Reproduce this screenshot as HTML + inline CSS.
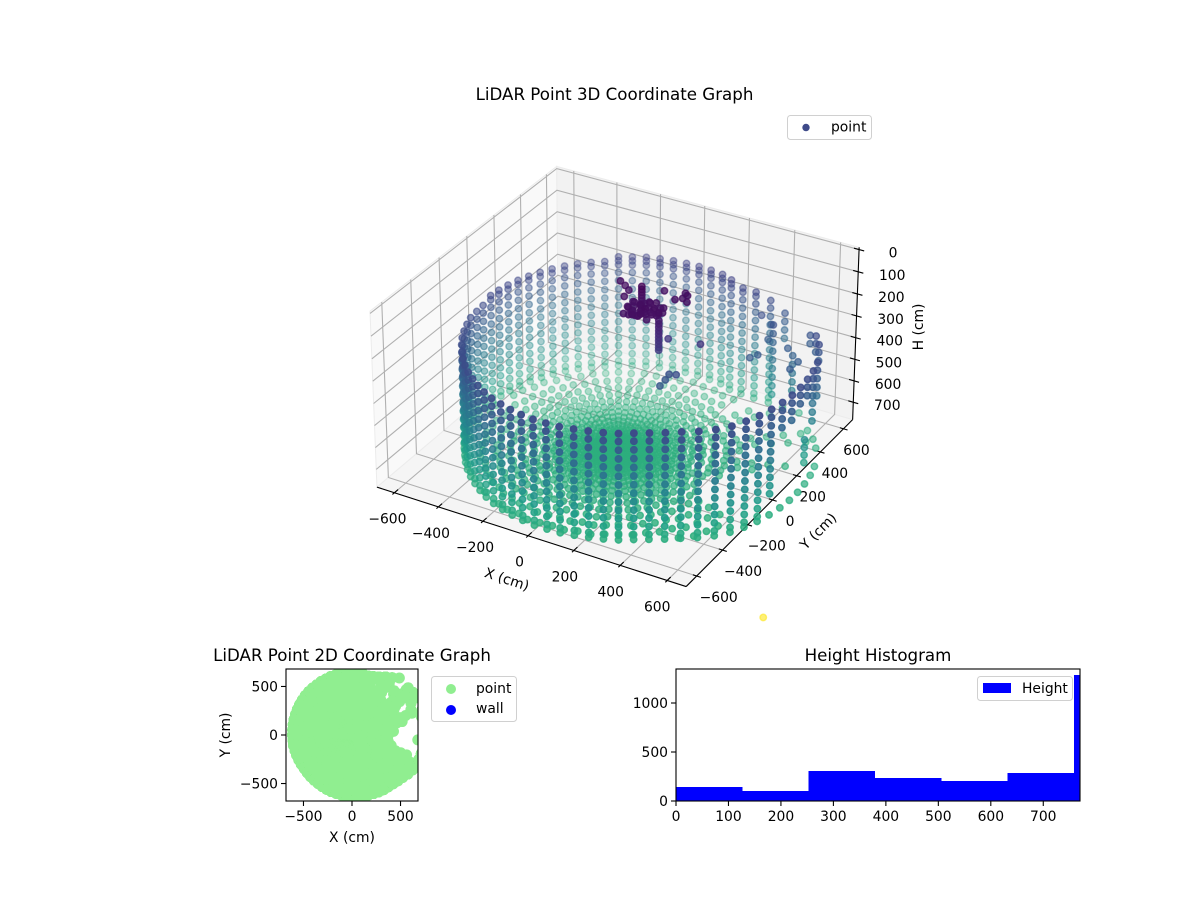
<!DOCTYPE html>
<html lang="en">
<head>
<meta charset="utf-8">
<title>LiDAR Point Graphs</title>
<style>
html,body{margin:0;padding:0;background:#fff;}
svg{display:block;}
text{font-family:"DejaVu Sans","Liberation Sans",sans-serif;fill:#000;}
.t{font-size:16.67px;text-anchor:middle;}
.l{font-size:13.89px;}
.m{text-anchor:middle;}
</style>
</head>
<body>
<svg id="fig" xmlns="http://www.w3.org/2000/svg" width="1200" height="900" viewBox="0 0 1200 900">
<rect width="1200" height="900" fill="#fff"/>
<defs>
<clipPath id="clip2d"><rect x="286" y="669" width="132" height="132"/></clipPath>
<clipPath id="cliphist"><rect x="676" y="669" width="404" height="132"/></clipPath>
</defs>

<text class="t" x="614.5" y="100">LiDAR Point 3D Coordinate Graph</text>
<g id="axes3d"></g>
<g id="points3d"></g>
<text class="l m" transform="translate(507 579) rotate(18)" y="5">X (cm)</text>
<text class="l m" transform="translate(818 531) rotate(-45)" y="5">Y (cm)</text>
<text class="l m" transform="translate(918 327) rotate(-90)" y="5">H (cm)</text>
<g>
<rect x="787.5" y="115.5" width="84" height="24" rx="3" fill="#fff" stroke="#d0d0d0"/>
<circle cx="806" cy="127.5" r="3.7" fill="#3e4a89"/>
<text class="l" x="831" y="131.5">point</text>
</g>

<text class="t" x="352" y="661">LiDAR Point 2D Coordinate Graph</text>
<rect x="286" y="669" width="132" height="132" fill="#fff"/>
<g id="points2d" clip-path="url(#clip2d)"></g>
<g id="axes2d"></g>
<rect x="286" y="669" width="132" height="132" fill="none" stroke="#000" stroke-width="1.1"/>
<text class="l m" x="352" y="842">X (cm)</text>
<text class="l m" transform="translate(225 735) rotate(-90)" y="5">Y (cm)</text>
<g>
<rect x="431.5" y="676.5" width="85" height="45" rx="3" fill="#fff" stroke="#d0d0d0"/>
<circle cx="451" cy="689" r="5" fill="#90ee90"/>
<text class="l" x="476" y="693">point</text>
<circle cx="451" cy="710" r="5" fill="#0000ff"/>
<text class="l" x="476" y="713">wall</text>
</g>

<text class="t" x="878" y="661">Height Histogram</text>
<g id="bars" clip-path="url(#cliphist)" shape-rendering="crispEdges"></g>
<g id="axeshist"></g>
<rect x="676" y="669" width="404" height="132" fill="none" stroke="#000" stroke-width="1.1"/>
<g>
<rect x="977.5" y="676.5" width="95" height="24" rx="3" fill="#fff" stroke="#d0d0d0"/>
<rect x="983" y="683" width="28" height="10" fill="#0000ff"/>
<text class="l" x="1022" y="693">Height</text>
</g>
</svg>

<script>
const xTicks3d=[-600,-400,-200,0,200,400,600];
const yTicks3d=[-600,-400,-200,0,200,400,600];
const hTicks3d=[0,100,200,300,400,500,600,700];
const xTicks2d=[-500,0,500];
const yTicks2d=[-500,0,500];
const histXTicks=[0,100,200,300,400,500,600,700];
const histYTicks=[0,500,1000];
const histEdges=[0,126.4,252.8,379.2,505.6,632,758.4,884.8];
const histCounts=[143,102,306,235,204,286,1285];

// one LiDAR beam per azimuth: angle (deg), wall distance (cm), farthest floor return (cm),
// highest and lowest wall return (cm), floor return stagger (cm)
const spokeAngle=[-180,-175,-170,-165,-160,-155,-150,-145,-140,-135,-130,-125,-120,-115,-110,-105,-100,-95,-90,-85,-80,-75,-70,-65,-60,-55,-50,-45,-40,-35,-30,-25,-20,-15,-10,-5,0,5,10,15,20,25,30,35,40,45,50,55,60,65,70,75,80,85,90,95,100,105,110,115,120,125,130,135,140,145,150,155,160,165,170,175];
const spokeRange=[612,610,612,608,606,604,602,600,602,604,606,608,612,616,620,622,626,630,634,636,640,640,642,646,650,650,656,667,680,700,718,730,735,740,744,748,752,756,760,765,770,775,770,765,755,760,750,720,690,660,640,630,640,640,640,640,640,640,640,635,635,630,630,630,628,625,622,620,618,616,614,612];
const spokeFloorRange=[612,610,612,608,606,604,602,600,602,604,606,608,612,616,620,622,626,630,634,636,640,640,642,646,650,650,660,675,695,715,730,730,660,470,440,430,430,450,480,570,700,470,520,770,800,470,500,720,670,540,640,630,640,640,640,640,640,640,640,635,635,630,630,630,628,625,622,620,618,616,614,612];
const spokeTop=[268,270,272,274,276,278,280,282,283,284,285,285,285,285,285,285,285,285,285,285,285,285,285,285,285,285,285,285,285,285,285,285,285,285,285,285,285,285,285,285,285,900,285,285,290,900,900,300,270,262,250,248,248,248,248,248,248,248,248,248,248,250,252,254,256,258,259,260,262,263,264,265];
const spokeBottom=[800,800,800,800,800,800,800,800,800,800,800,800,800,800,800,800,800,800,800,800,800,800,800,800,800,800,800,800,800,800,800,800,800,800,664,400,400,360,360,397,436,800,358,358,358,800,800,436,800,800,800,800,800,800,800,800,800,800,800,800,800,800,800,800,800,800,800,800,800,800,800,800];
const spokeRingShift=[0,9,4,13,2,11,6,15,1,8,3,12,5,14,7,10,0,13,6,2,11,4,15,8,1,12,5,9,3,14,7,0,10,4,13,2,8,15,6,11,1,9,5,12,3,14,0,7,10,4,13,2,11,6,15,1,8,3,12,5,14,7,10,0,9,4,13,2,11,6,15,8];
const wallRows=[248,266,285,320,358,397,436,474,513,551,589,627,664,702,738];
const floorRings=[6,14,22,30,38,46,55,64,74,84,95,106,130,156,184,214,246,282,322,366,414,466,524,588,655,725];
const floorHeight=[772];
// individually read returns: overhead objects, obstacles at right, and one stray point
const objX=[-29,0,26,35,
85,85,85,85,85,85,85,85,
75,95,115,135,155,175,195,215,165,135,105,130,150,173,115,85,145,190,205,146,225,214,263,235,245,
90,100,125,145,160,170,185,200,120,140,160,110,95,180,150,120,105,80,200,215,
206,206,206,206,206,206,206,206,206,206,
213,335,
265,290,257,245,
384,428,357,449,433,526,607,608,
714,714,714,714,718,718,718,
546,546,546,546,546,
432,432,432,432,432,432,432,432,432,
488,
678];
const objY=[65,51,34,-17,
30,30,30,30,30,30,30,30,
-20,-50,-30,-70,-40,-60,-20,-40,0,0,-80,-123,-110,-97,-100,-110,-80,-80,-70,97,120,58,63,80,100,
-35,-65,-50,-55,-75,-30,-50,-45,-85,-100,-110,-115,-90,-100,-20,-10,-15,-70,-5,-70,
-52,-52,-52,-52,-52,-52,-52,-52,-52,-52,
9,42,
-75,-65,-90,-110,
531,421,499,296,262,399,262,327,
190,190,190,190,241,241,241,
403,403,403,403,403,
455,455,455,455,455,455,455,455,455,
587,
-50];
const objH=[40,45,50,50,
15,28,41,54,67,80,93,105,
60,60,55,60,55,60,55,60,50,55,60,50,55,50,60,65,45,55,60,50,50,50,50,50,45,
50,70,45,70,40,65,45,70,75,65,45,60,45,70,45,60,70,55,60,45,
90,105,120,135,150,165,180,195,210,222,
200,205,
300,300,320,340,
350,350,300,350,350,350,350,350,
600,635,670,705,460,500,540,
380,420,460,500,540,
300,340,380,420,460,500,540,580,620,
760,
1305];
const colorDomainMax=1225;

const SVGNS='http://www.w3.org/2000/svg';
const viridisStops=['#440154','#482878','#3e4989','#31688e','#26828e','#1f9e89','#35b779','#6ece58','#b5de2b','#fde725'];
function hex2rgb(h){return [1,3,5].map(i=>parseInt(h.substr(i,2),16));}
function viridis(t){
  t=Math.max(0,Math.min(1,t))*(viridisStops.length-1);
  const i=Math.min(Math.floor(t),viridisStops.length-2),f=t-i;
  const a=hex2rgb(viridisStops[i]),b=hex2rgb(viridisStops[i+1]);
  return 'rgb('+a.map((v,k)=>Math.round(v+(b[k]-v)*f)).join(',')+')';
}
function mk(tag,parent,attrs){
  const el=document.createElementNS(SVGNS,tag);
  for(const k in attrs)el.setAttribute(k,attrs[k]);
  parent.appendChild(el);
  return el;
}

/* 3D projection */
const LIM=680,HTOP=-10,HBOT=782,BOXZ=0.56,DIST=10;
const EL=30*Math.PI/180,AZ=-60*Math.PI/180;
const sE=Math.sin(EL),cE=Math.cos(EL),sA=Math.sin(AZ),cA=Math.cos(AZ);
const U=[-sA,cA,0],V=[-sE*cA,-sE*sA,cE],W=[cE*cA,cE*sA,sE];
const SX=3530,SY=3590,CX=618.5,CY=367;
function project(x,y,h){
  const X=x/(2*LIM),Y=y/(2*LIM),Z=BOXZ/2-((h-HTOP)/(HBOT-HTOP))*BOXZ;
  const u=U[0]*X+U[1]*Y,v=V[0]*X+V[1]*Y+V[2]*Z,w=W[0]*X+W[1]*Y+W[2]*Z;
  const f=1/(DIST-w);
  return {px:CX+SX*u*f,py:CY-SY*v*f,depth:w};
}
function pathOf(pts){
  return pts.map((p,i)=>{const q=project(p[0],p[1],p[2]);return (i?'L':'M')+q.px.toFixed(2)+' '+q.py.toFixed(2);}).join(' ');
}

/* assemble all returns from the data arrays */
const allX=[],allY=[],allH=[];
spokeAngle.forEach((deg,i)=>{
  const a=deg*Math.PI/180,r=spokeRange[i];
  wallRows.forEach(h=>{
    if(h>=spokeTop[i]&&h<=spokeBottom[i]){allX.push(r*Math.cos(a));allY.push(r*Math.sin(a));allH.push(h);}
  });
  floorRings.forEach(fr=>{
    const rr=fr+spokeRingShift[i];
    if(rr<spokeFloorRange[i]-15){allX.push(rr*Math.cos(a));allY.push(rr*Math.sin(a));allH.push(floorHeight[0]);}
  });
  if(spokeTop[i]<800){allX.push(r*Math.cos(a));allY.push(r*Math.sin(a));allH.push(floorHeight[0]-12);}
});
objX.forEach((v,i)=>{allX.push(v);allY.push(objY[i]);allH.push(objH[i]);});

/* draw 3D axes */
const ax3=document.getElementById('axes3d');
const panes=[
  {name:'pane-left',fill:'#f9f9f9',pts:[[-LIM,-LIM,HBOT],[-LIM,-LIM,HTOP],[-LIM,LIM,HTOP],[-LIM,LIM,HBOT]]},
  {name:'pane-back',fill:'#f2f2f2',pts:[[-LIM,LIM,HBOT],[-LIM,LIM,HTOP],[LIM,LIM,HTOP],[LIM,LIM,HBOT]]},
  {name:'pane-floor',fill:'#f5f5f5',pts:[[-LIM,-LIM,HBOT],[LIM,-LIM,HBOT],[LIM,LIM,HBOT],[-LIM,LIM,HBOT]]}
];
panes.forEach(p=>{
  const el=mk('path',ax3,{d:pathOf(p.pts)+' Z',fill:p.fill,stroke:'#ececec','stroke-width':1});
  
  
});
const gridStyle={fill:'none',stroke:'#b0b0b0','stroke-width':1.1};
xTicks3d.forEach(t=>{
  const el=mk('path',ax3,Object.assign({d:pathOf([[t,-LIM,HBOT],[t,LIM,HBOT],[t,LIM,HTOP]])},gridStyle));
  
  
});
yTicks3d.forEach(t=>{
  const el=mk('path',ax3,Object.assign({d:pathOf([[LIM,t,HBOT],[-LIM,t,HBOT],[-LIM,t,HTOP]])},gridStyle));
  
  
});
hTicks3d.forEach(t=>{
  const el=mk('path',ax3,Object.assign({d:pathOf([[-LIM,-LIM,t],[-LIM,LIM,t],[LIM,LIM,t]])},gridStyle));
  
  
});
const axisStyle={fill:'none',stroke:'#000','stroke-width':1.1};
[[[-LIM,-LIM,HBOT],[LIM,-LIM,HBOT]],[[LIM,-LIM,HBOT],[LIM,LIM,HBOT]],[[LIM,LIM,HBOT],[LIM,LIM,HTOP]]].forEach(seg=>{
  const el=mk('path',ax3,Object.assign({d:pathOf(seg)},axisStyle));
  
  
});
function tickLabel3d(parent,q,dx,dy,val,name){
  const el=mk('text',parent,{x:(q.px+dx).toFixed(1),y:(q.py+dy).toFixed(1),class:'l m'});
  el.textContent=String(val).replace('-','\u2212');
  
  
}
xTicks3d.forEach(t=>{
  const el=mk('path',ax3,Object.assign({d:pathOf([[t,-LIM-14,HBOT],[t,-LIM+26,HBOT]])},axisStyle));
  
  
  tickLabel3d(ax3,project(t,-LIM,HBOT),-7-(t+600)/1200*3,31,t,'x-tick-label-3d');
});
yTicks3d.forEach(t=>{
  const el=mk('path',ax3,Object.assign({d:pathOf([[LIM-16,t,HBOT],[LIM+18,t,HBOT]])},axisStyle));
  
  
  tickLabel3d(ax3,project(LIM,t,HBOT),17.5-t/600*4.5,26,t,'y-tick-label-3d');
});
hTicks3d.forEach(t=>{
  const el=mk('path',ax3,Object.assign({d:pathOf([[LIM-22,LIM,t],[LIM+22,LIM,t]])},axisStyle));
  
  
  tickLabel3d(ax3,project(LIM,LIM,t),34,8,t,'h-tick-label-3d');
});

/* 3D scatter, depth-sorted with depth shading */
const g3=document.getElementById('points3d');
const proj=allX.map((x,i)=>{const q=project(x,allY[i],allH[i]);q.h=allH[i];return q;});
const dMin=Math.min(...proj.map(q=>q.depth)),dMax=Math.max(...proj.map(q=>q.depth));
proj.slice().sort((a,b)=>a.depth-b.depth).forEach(q=>{
  const op=(0.3+0.7*(q.depth-dMin)/(dMax-dMin)).toFixed(3);
  const col=viridis(q.h/colorDomainMax);
  const el=mk('circle',g3,{cx:q.px.toFixed(2),cy:q.py.toFixed(2),r:3.25,fill:col,'fill-opacity':op,stroke:col,'stroke-opacity':op,'stroke-width':1.4});
  
  
});

/* 2D scatter */
function sx2(v){return 352+v*132/(2*680);}
function sy2(v){return 735-v*132/(2*680);}
const g2=document.getElementById('points2d');
allX.forEach((x,i)=>{
  const el=mk('circle',g2,{cx:sx2(x).toFixed(2),cy:sy2(allY[i]).toFixed(2),r:5.5,fill:'#90ee90'});
  
  
});
const ax2=document.getElementById('axes2d');
xTicks2d.forEach(t=>{
  const x=sx2(t);
  const tk=mk('line',ax2,{x1:x,x2:x,y1:801,y2:806,stroke:'#000','stroke-width':1.1});
  
  
  const lb=mk('text',ax2,{x:x,y:821,class:'l m'});
  lb.textContent=String(t).replace('-','\u2212');
  
  
});
yTicks2d.forEach(t=>{
  const y=sy2(t);
  const tk=mk('line',ax2,{x1:281,x2:286,y1:y,y2:y,stroke:'#000','stroke-width':1.1});
  
  
  const lb=mk('text',ax2,{x:278,y:y+5,'text-anchor':'end',class:'l'});
  lb.textContent=String(t).replace('-','\u2212');
  
  
});

/* histogram */
function hx(v){return 676+v*404/770;}
function hy(v){return 801-v*132/1347;}
const gb=document.getElementById('bars');
histCounts.forEach((c,i)=>{
  const x0=hx(histEdges[i]),x1=hx(histEdges[i+1]),y=hy(c);
  const el=mk('rect',gb,{x:x0,y:y,width:x1-x0,height:801-y,fill:'#0000ff'});
  
  
});
const axh=document.getElementById('axeshist');
histXTicks.forEach(t=>{
  const x=hx(t);
  const tk=mk('line',axh,{x1:x,x2:x,y1:801,y2:806,stroke:'#000','stroke-width':1.1});
  
  
  const lb=mk('text',axh,{x:x,y:821,class:'l m'});
  lb.textContent=String(t);
  
  
});
histYTicks.forEach(t=>{
  const y=hy(t);
  const tk=mk('line',axh,{x1:671,x2:676,y1:y,y2:y,stroke:'#000','stroke-width':1.1});
  
  
  const lb=mk('text',axh,{x:668,y:y+5,'text-anchor':'end',class:'l'});
  lb.textContent=String(t);
  
  
});
</script>
</body>
</html>
